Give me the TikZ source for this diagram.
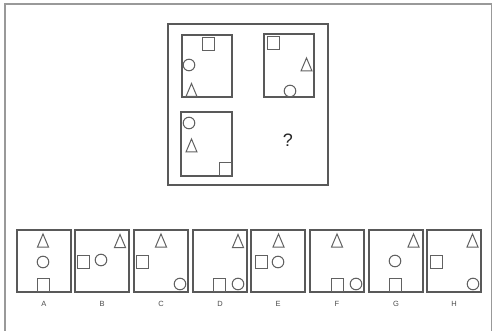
\documentclass[tikz,border=0pt]{standalone}
\usepackage{fontspec}
\setmainfont{Liberation Sans}
\begin{document}
\begin{tikzpicture}[x=1pt,y=-1pt,
  shp/.style={draw=black!62,line width=1pt},
  boxs/.style={draw=black!65,line width=1.3pt},
  lbl/.style={font=\fontsize{7.5}{8}\selectfont,text=black!70,inner sep=0pt}]
\useasboundingbox (0,0) rectangle (492,331);
\newcommand\Tri[2]{\draw[shp] (#1-5.5,#2+6.5) -- (#1+5.5,#2+6.5) -- (#1,#2-6.5) -- cycle;}
\newcommand\Sqr[2]{\draw[shp] (#1-6,#2-6.5) rectangle (#1+6,#2+6.5);}
\newcommand\Cir[2]{\draw[shp] (#1,#2) circle[radius=5.8];}
% outer frame
\begin{scope}
\clip (0,0) rectangle (492,331);
\draw[black!40,line width=2pt] (4.5,340) -- (4.5,4.5) -- (491.5,4.5) -- (491.5,340);
\end{scope}
% main box
\draw[boxs] (168,24) rectangle (328,185);
\draw[boxs] (182,35) rectangle (232,97);
\Sqr{208}{44.5}\Cir{189}{65}\Tri{191.5}{90}
\draw[boxs] (264,34) rectangle (314,97);
\Sqr{273}{43.5}\Tri{306.5}{64.5}\Cir{290}{91}
\draw[boxs] (181,112) rectangle (232,176);
\Cir{189}{123}\Tri{191.5}{145.5}\Sqr{225.5}{169.5}
\node[font=\fontsize{18}{19}\selectfont,text=black!85] (q) at (288,140) {?};
% answers
\foreach \x/\l in {17/A,75/B,134/C,193/D,251/E,310/F,369/G,427/H}{
  \draw[boxs] (\x,230) rectangle (\x+54,292);
  \node[lbl] (lab\l) at (\x+27,304) {\l};
}
\Tri{43}{240.5}\Cir{43}{262}\Sqr{43}{284.5}
\Tri{120}{241}\Sqr{83.5}{261.5}\Cir{101}{260}
\Tri{161}{240.5}\Sqr{142}{261.5}\Cir{180}{284}
\Tri{238}{241}\Sqr{219}{284.5}\Cir{238}{284}
\Tri{278.5}{240.5}\Sqr{261}{261.5}\Cir{278}{262}
\Tri{337}{240.5}\Sqr{337.5}{284.5}\Cir{356}{284}
\Tri{413.5}{240.5}\Cir{395}{261}\Sqr{395.5}{284.5}
\Tri{472.5}{240.5}\Sqr{436.5}{261.5}\Cir{473}{284}
\end{tikzpicture}
\end{document}
